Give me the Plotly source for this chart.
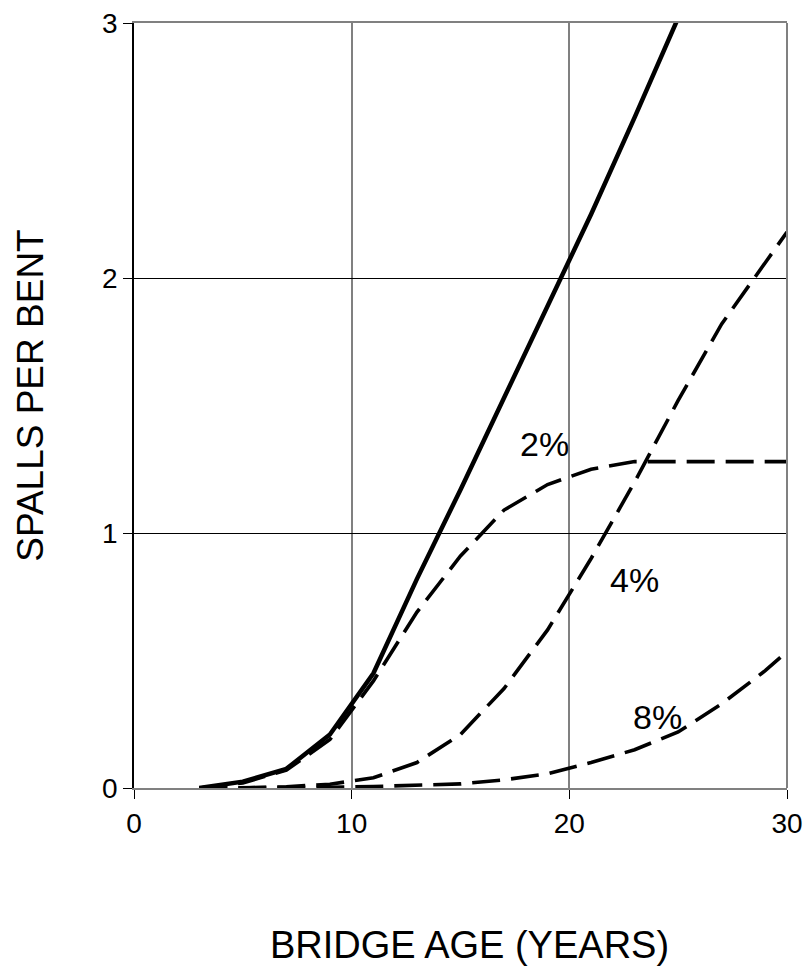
import plotly.graph_objects as go

years = [3, 5, 7, 9, 11, 13, 15, 17, 19, 21, 23, 25]
total = [0, 0.025, 0.075, 0.21, 0.45, 0.82, 1.17, 1.53, 1.88, 2.25, 2.63, 3.02]

years_2 = [3, 5, 7, 9, 11, 13, 15, 17, 19, 21, 23, 25, 27, 29, 30]
pct2 = [0, 0.02, 0.07, 0.19, 0.42, 0.69, 0.91, 1.09, 1.19, 1.25, 1.28, 1.28, 1.28, 1.28, 1.28]

years_4 = [3, 5, 7, 9, 11, 13, 15, 17, 19, 21, 23, 25, 27, 29, 30]
pct4 = [0, 0, 0.005, 0.015, 0.04, 0.1, 0.21, 0.39, 0.62, 0.9, 1.2, 1.52, 1.82, 2.06, 2.18]

years_8 = [3, 5, 7, 9, 11, 13, 15, 17, 19, 21, 23, 25, 27, 29, 30]
pct8 = [0, 0, 0, 0.003, 0.006, 0.01, 0.016, 0.032, 0.056, 0.1, 0.15, 0.22, 0.33, 0.46, 0.535]

labels = ["2%", "4%", "8%"]
label_x = [18.85, 23.0, 24.05]
label_y = [1.35, 0.815, 0.28]

x_ticks = [0, 10, 20, 30]
y_ticks = [0, 1, 2, 3]

x_title = "BRIDGE AGE (YEARS)"
y_title = "SPALLS PER BENT"

FONT = "Liberation Sans, Arial, sans-serif"

fig = go.Figure()
dash = "28px,11px"
for xs, ys in [(years_2, pct2), (years_4, pct4), (years_8, pct8)]:
    fig.add_trace(go.Scatter(x=xs, y=ys, mode="lines",
                             line=dict(color="black", width=3.6, dash=dash),
                             showlegend=False, hoverinfo="skip"))
fig.add_trace(go.Scatter(x=years, y=total, mode="lines",
                         line=dict(color="black", width=4.5),
                         showlegend=False, hoverinfo="skip"))

for t, lx, ly in zip(labels, label_x, label_y):
    fig.add_annotation(x=lx, y=ly, text=t, showarrow=False,
                       font=dict(family=FONT, size=34, color="black"))

# axis titles
fig.add_annotation(xref="paper", yref="paper", x=0.514, y=-0.205, text=x_title,
                   showarrow=False, xanchor="center", yanchor="middle",
                   font=dict(family=FONT, size=38, color="black"))
fig.add_annotation(xref="paper", yref="paper", x=-0.159, y=0.513, text=y_title,
                   showarrow=False, xanchor="center", yanchor="middle", textangle=-90,
                   font=dict(family=FONT, size=37, color="black"))

# right border
fig.add_shape(type="line", xref="paper", yref="paper", x0=1, x1=1, y0=0, y1=1,
              line=dict(color="#808080", width=2))

# plot area sits at page x 134..787, y 23..788
fig.update_layout(
    width=807, height=968,
    margin=dict(l=134, r=20, t=23, b=180),
    paper_bgcolor="white", plot_bgcolor="white",
    font=dict(family=FONT, color="black"),
    xaxis=dict(range=[0, 30], tickvals=x_ticks, ticks="outside", ticklen=9,
               tickcolor="black", tickwidth=1, automargin=False,
               ticklabeloverflow="allow",
               showline=True, linecolor="#808080", linewidth=2, mirror=True,
               showgrid=True, gridcolor="#808080", gridwidth=1.5,
               zeroline=False, tickfont=dict(size=28, family=FONT)),
    yaxis=dict(range=[0, 3], tickvals=y_ticks, ticks="outside", ticklen=9,
               tickcolor="black", tickwidth=1, automargin=False,
               ticklabeloverflow="allow",
               showline=True, linecolor="black", linewidth=1.5,
               showgrid=True, gridcolor="black", gridwidth=1,
               zeroline=False, tickfont=dict(size=28, family=FONT)),
)

fig.write_html("out.html",
               config={"displayModeBar": False},
               post_script="document.body.style.margin='0px';"
                           "document.body.style.overflow='hidden';")
